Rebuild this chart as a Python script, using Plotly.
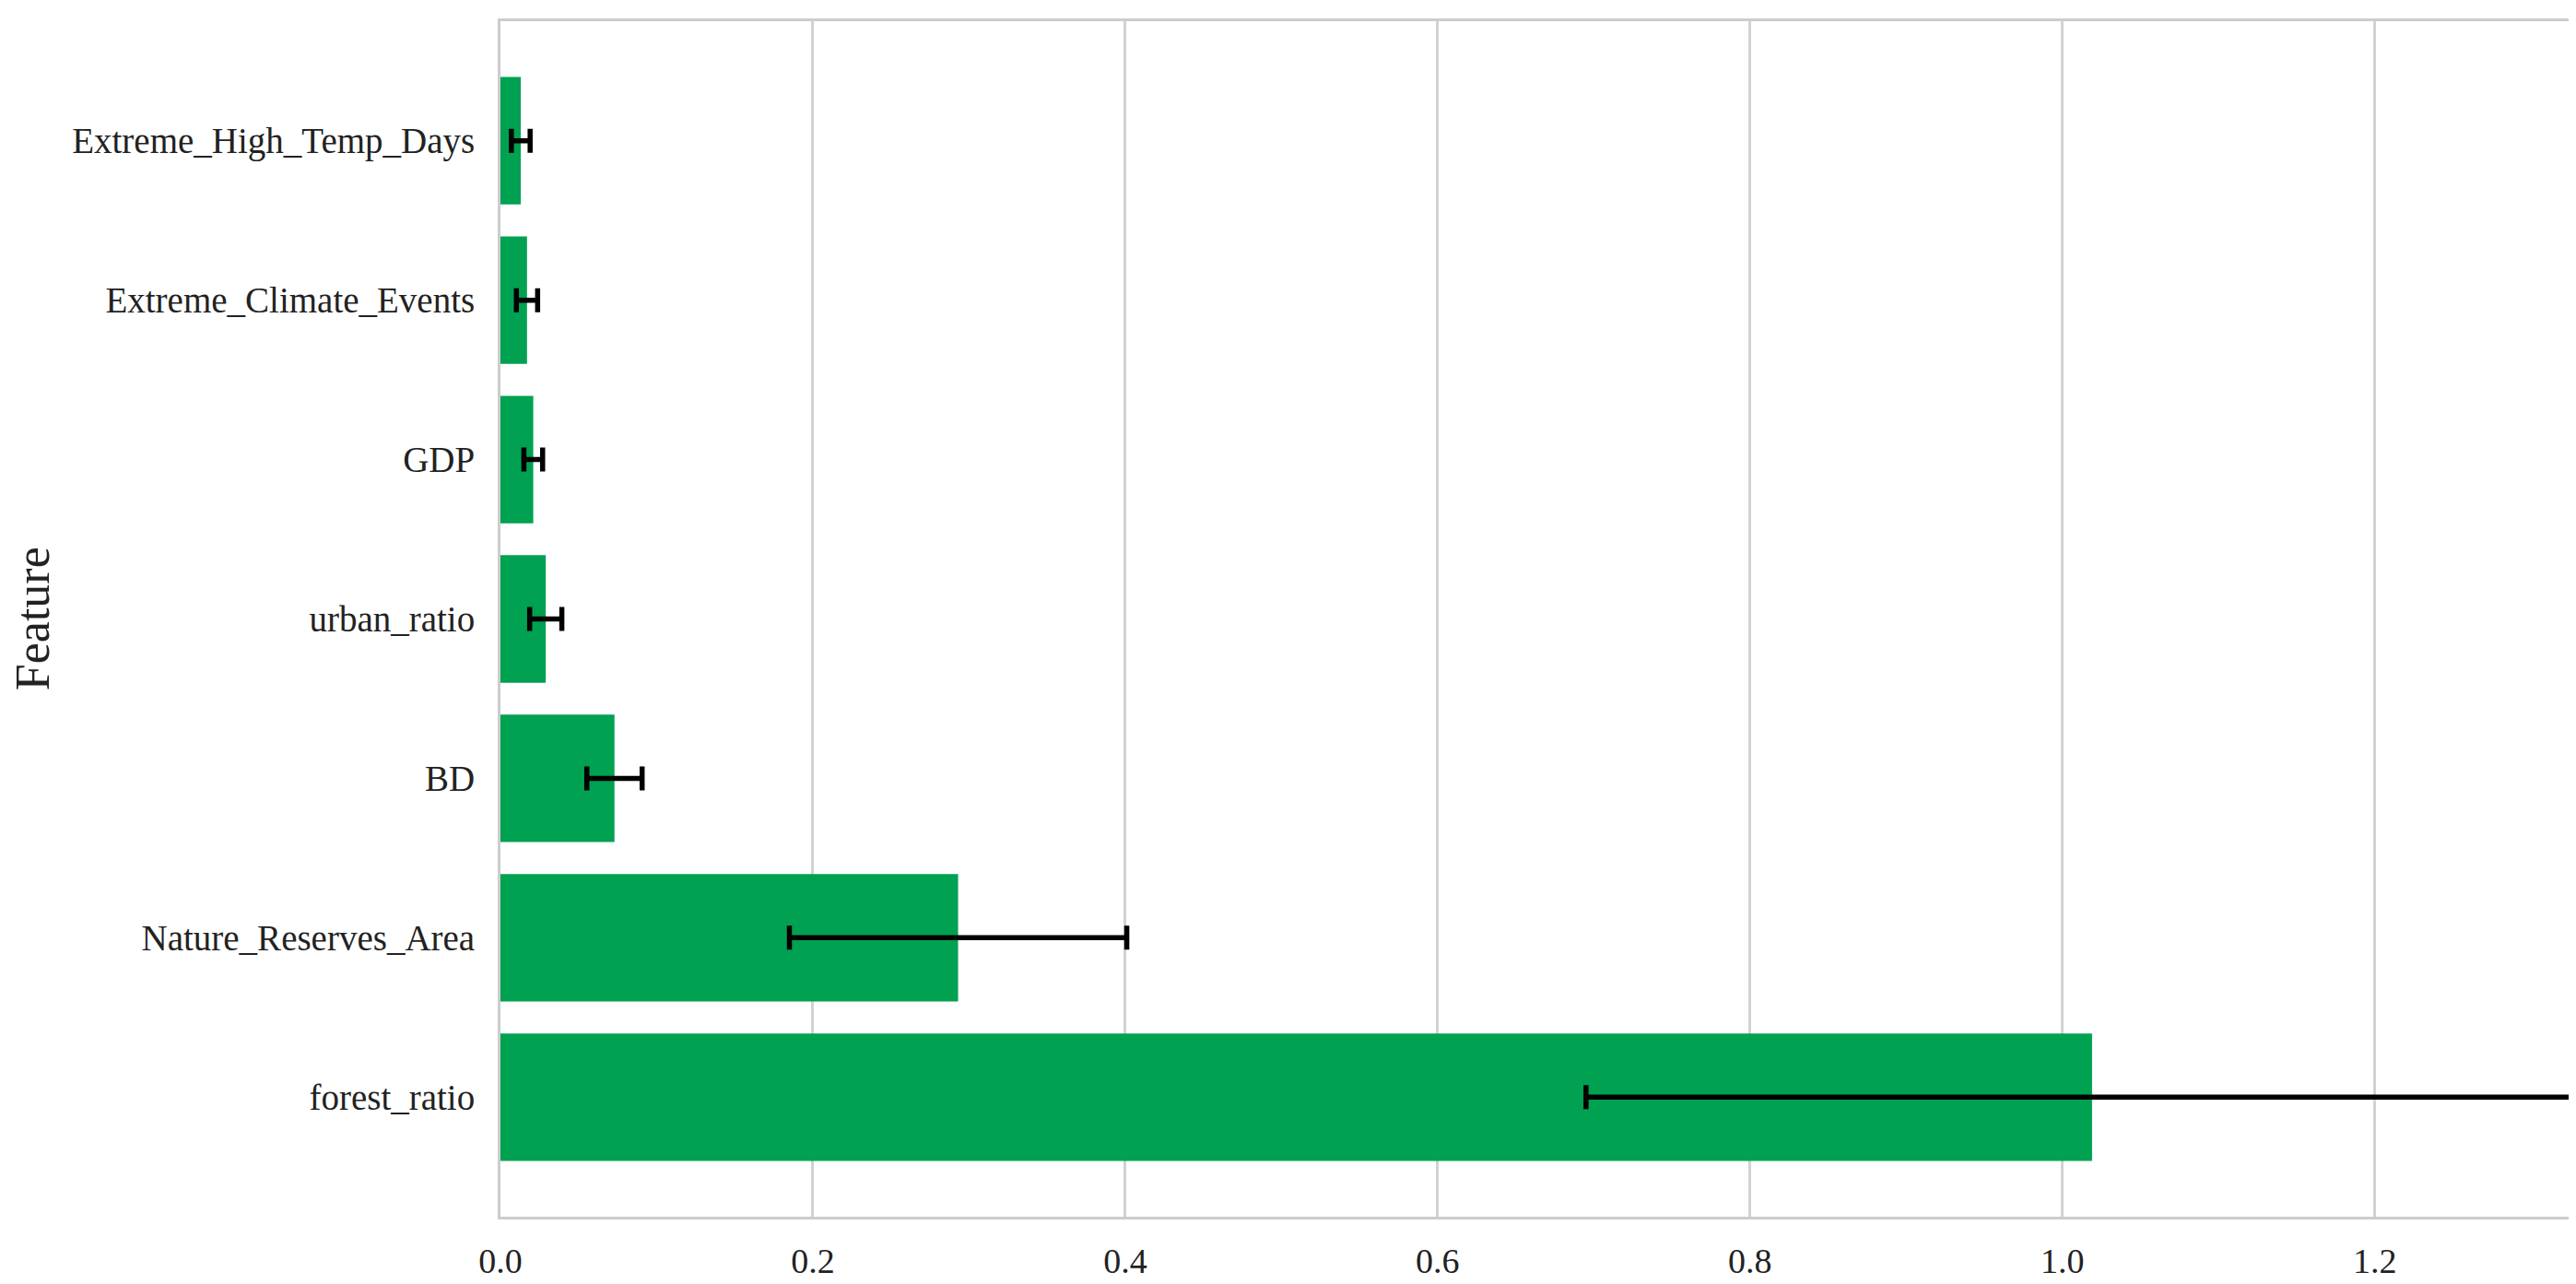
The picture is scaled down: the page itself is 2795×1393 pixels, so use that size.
import plotly.graph_objects as go

features = ["forest_ratio", "Nature_Reserves_Area", "BD", "urban_ratio",
            "GDP", "Extreme_Climate_Events", "Extreme_High_Temp_Days"]
importance = [1.019, 0.293, 0.073, 0.029, 0.021, 0.017, 0.013]
importance_std = [0.324, 0.108, 0.0177, 0.0103, 0.006, 0.0068, 0.006]
x_ticks = [0.0, 0.2, 0.4, 0.6, 0.8, 1.0, 1.2]

FONT = "Liberation Serif, Times New Roman, serif"

fig = go.Figure()
fig.add_trace(go.Bar(
    x=importance,
    y=features,
    orientation="h",
    marker=dict(color="#00A151", line=dict(width=0)),
    error_x=dict(type="data", array=importance_std, visible=True,
                 color="black", thickness=5.5, width=13),
    showlegend=False,
))

fig.update_layout(
    width=2795, height=1393,
    margin=dict(l=535, r=12, t=12, b=61),
    paper_bgcolor="white", plot_bgcolor="white",
    bargap=0.2,
    font=dict(family=FONT, size=39, color="#222222"),
)

fig.update_xaxes(
    range=[0, 1.3247],
    tickvals=x_ticks,
    ticktext=[f"{v:.1f}" for v in x_ticks],
    showgrid=True, gridcolor="#d2d2d2", gridwidth=2.5,
    zeroline=False,
    showline=True, linecolor="#cccccc", linewidth=3, mirror=True,
    ticks="", ticklabelstandoff=12,
    tickfont=dict(family=FONT, size=38, color="#222222"),
)
fig.update_yaxes(
    type="category",
    categoryorder="array", categoryarray=features,
    range=[-0.75, 6.75],
    showgrid=False, zeroline=False,
    showline=True, linecolor="#cccccc", linewidth=3, mirror=True,
    ticks="", ticklabelstandoff=17,
    tickfont=dict(family=FONT, size=39, color="#222222"),
)

fig.add_annotation(
    text="Feature", xref="paper", yref="paper",
    x=(27 - 535) / 2248, y=0.5, xanchor="center", yanchor="middle",
    textangle=-90, showarrow=False,
    font=dict(family=FONT, size=52, color="#222222"),
)

fig.write_html("out.html")
